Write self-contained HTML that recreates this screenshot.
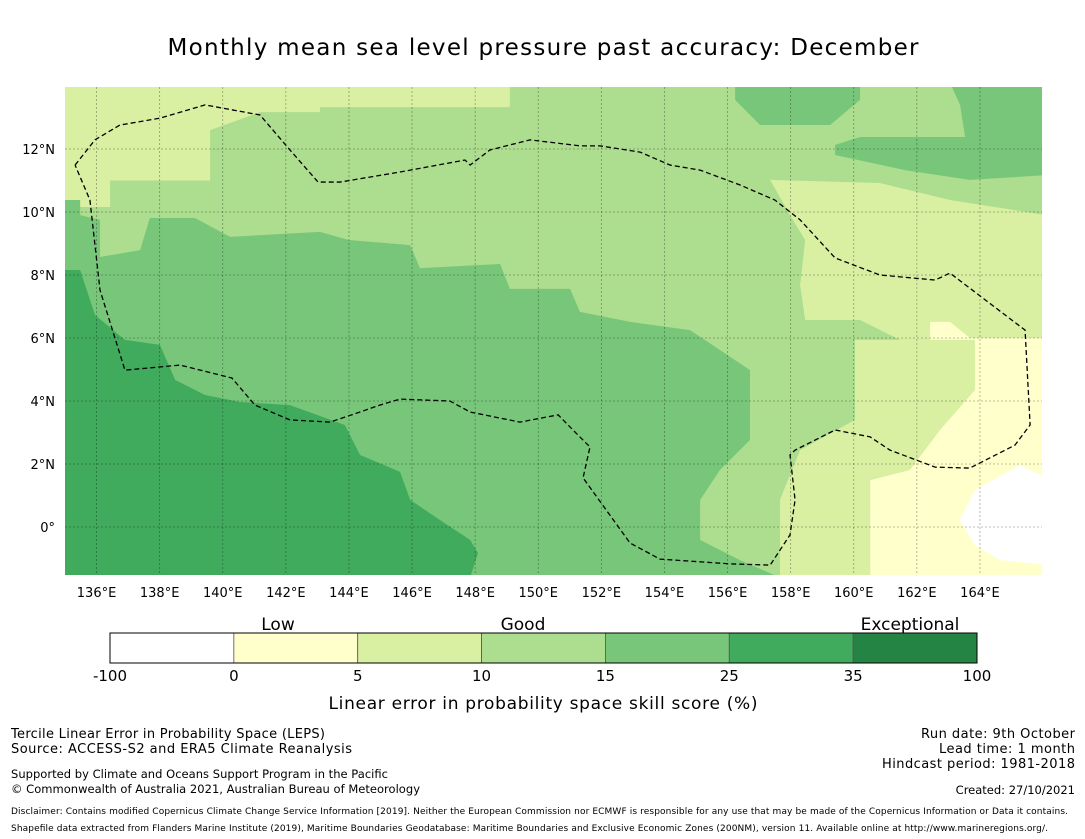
<!DOCTYPE html>
<html><head><meta charset="utf-8"><style>
body{margin:0;background:#fff}
svg{display:block;font-family:"DejaVu Sans","Liberation Sans",sans-serif}
</style></head><body>
<svg id="chart" width="1085" height="839" viewBox="0 0 1085 839">
<text x="543" y="55" font-size="23" text-anchor="middle" textLength="751">Monthly mean sea level pressure past accuracy: December</text>
<defs><clipPath id="mapclip"><rect x="65" y="87" width="977" height="488"/></clipPath></defs>
<g id="map" clip-path="url(#mapclip)"></g>
<g id="axes"></g>
<g id="cbar"></g>
<text x="278" y="630" font-size="17" text-anchor="middle">Low</text>
<text x="523" y="630" font-size="17" text-anchor="middle">Good</text>
<text x="910" y="630" font-size="17" text-anchor="middle">Exceptional</text>
<text x="543" y="709" font-size="17" text-anchor="middle" textLength="429">Linear error in probability space skill score (%)</text>
<g font-size="13">
<text x="11" y="738" textLength="314">Tercile Linear Error in Probability Space (LEPS)</text>
<text x="11" y="753" textLength="341">Source: ACCESS-S2 and ERA5 Climate Reanalysis</text>
<text x="11" y="778" font-size="11.5" textLength="377">Supported by Climate and Oceans Support Program in the Pacific</text>
<text x="11" y="793" font-size="11.5" textLength="409">© Commonwealth of Australia 2021, Australian Bureau of Meteorology</text>
<text x="1075" y="738" text-anchor="end" textLength="154">Run date: 9th October</text>
<text x="1075" y="753" text-anchor="end" textLength="136">Lead time: 1 month</text>
<text x="1075" y="768" text-anchor="end" textLength="193">Hindcast period: 1981-2018</text>
<text x="1075" y="794" font-size="11.5" text-anchor="end">Created: 27/10/2021</text>
<text x="11" y="814" font-size="9" textLength="1057">Disclaimer: Contains modified Copernicus Climate Change Service Information [2019]. Neither the European Commission nor ECMWF is responsible for any use that may be made of the Copernicus Information or Data it contains.</text>
<text x="11" y="831" font-size="9" textLength="1037">Shapefile data extracted from Flanders Marine Institute (2019), Maritime Boundaries Geodatabase: Maritime Boundaries and Exclusive Economic Zones (200NM), version 11. Available online at http://www.marineregions.org/.</text>
</g>
</svg>
<script>
const lonTicks=[136,138,140,142,144,146,148,150,152,154,156,158,160,162,164];
const latTicks=[0,2,4,6,8,10,12];
const cbarBounds=["-100","0","5","10","15","25","35","100"];
const cbarColors=["#ffffff","#ffffcc","#d9f0a3","#addd8e","#78c679","#41ab5d","#238443"];
const regionMidGreen=[[135,10.38],[135.48,10.38],[135.48,9.9],[136.11,9.75],[136.11,8.57],[137.38,8.79],[137.69,9.81],[139.12,9.81],[140.23,9.21],[143.08,9.37],[143.99,9.11],[145.94,8.95],[146.25,8.22],[148.79,8.35],[149.1,7.56],[151.01,7.56],[151.32,6.83],[152.91,6.51],[154.81,6.25],[155.76,5.62],[156.71,4.98],[156.71,2.76],[155.76,1.81],[155.13,0.86],[155.13,-0.41],[156.39,-1.05],[157.66,-1.6],[135,-1.6]];
const regionDarkGreen=[[135,8.16],[135.48,8.16],[135.95,6.73],[136.9,5.94],[138.01,5.78],[138.49,4.67],[139.44,4.19],[140.55,3.97],[142.13,3.87],[143.87,3.24],[144.35,2.29],[145.62,1.75],[145.94,0.86],[146.89,0.22],[147.84,-0.41],[148.09,-0.83],[147.84,-1.6],[135,-1.6]];
const regionTopLeft=[[134.9,14.1],[149.1,14.1],[149.1,13.33],[143.08,13.33],[143.08,13.17],[141.18,13.17],[139.6,12.6],[139.6,11.0],[136.43,11.0],[136.43,10.16],[134.9,10.16]];
const regionRightLight=[[157.35,11.02],[160.83,10.92],[163.05,10.38],[166.1,9.9],[166.1,5.94],[161.47,5.94],[160.2,6.57],[158.46,6.57],[158.3,7.68],[158.46,9.11],[157.98,9.9]];
const regionLowerLight=[[157.66,-1.6],[157.66,0.86],[158.3,2.44],[160.04,3.4],[160.04,5.94],[163.84,5.94],[163.84,4.35],[162.73,3.08],[161.78,1.81],[160.52,1.49],[160.52,-1.6]];
const regionYellow=[[160.52,-1.6],[160.52,1.49],[161.78,1.81],[162.73,3.08],[163.84,4.35],[163.84,5.94],[162.42,5.94],[162.42,6.51],[163.05,6.51],[163.68,6.0],[166.1,6.0],[166.1,-1.6]];
const regionWhite=[[166.1,1.56],[165.27,1.97],[163.84,1.17],[163.36,0.22],[163.84,-0.57],[164.63,-1.05],[166.1,-1.2]];
const regionTopRightA=[[156.24,14.1],[160.2,14.1],[160.2,13.56],[159.25,12.76],[157.03,12.76],[156.24,13.56]];
const regionTopRightB=[[163.05,14.1],[166.1,14.1],[166.1,11.17],[163.68,11.02],[161.62,11.33],[159.41,11.81],[159.41,12.13],[160.2,12.38],[163.53,12.38],[163.37,13.4]];
const eezBoundary=[[135.32,11.49],[135.95,12.29],[136.74,12.76],[138.01,12.98],[139.44,13.4],[141.18,13.08],[142.13,11.97],[143.02,10.95],[143.72,10.95],[145.62,11.27],[147.68,11.65],[147.84,11.49],[148.47,11.97],[149.74,12.29],[151.32,12.1],[151.96,12.1],[153.23,11.9],[154.18,11.49],[155.13,11.33],[156.39,10.86],[157.5,10.38],[158.3,9.75],[159.41,8.54],[160.83,8.0],[162.58,7.84],[163.05,8.06],[165.43,6.25],[165.59,3.24],[165.11,2.6],[163.68,1.87],[162.58,1.9],[161.15,2.44],[160.52,2.86],[159.41,3.08],[158.14,2.44],[157.98,2.29],[158.14,0.86],[157.98,-0.25],[157.35,-1.21],[156.08,-1.17],[153.86,-1.02],[152.91,-0.51],[151.42,1.56],[151.64,2.54],[151.16,3.02],[150.63,3.56],[149.42,3.33],[147.84,3.65],[147.2,4.0],[145.62,4.06],[144.98,3.87],[144.35,3.65],[143.4,3.33],[142.13,3.4],[141.02,3.87],[140.29,4.73],[138.65,5.14],[136.9,4.98],[136.11,7.52],[135.79,10.38],[135.32,11.49]];

const NS="http://www.w3.org/2000/svg";
const X=lon=>65+(lon-135)*31.55;
const Y=lat=>527-lat*31.5;
function mk(tag,attrs,parent){const e=document.createElementNS(NS,tag);for(const k in attrs)e.setAttribute(k,attrs[k]);parent.appendChild(e);return e;}
const map=document.getElementById('map');
const bg=mk('rect',{x:65,y:87,width:977,height:488,fill:'#addd8e'},map);


const regions=[[regionTopLeft,'#d9f0a3','region-top-left'],[regionMidGreen,'#78c679','region-mid-green'],[regionDarkGreen,'#41ab5d','region-dark-green'],[regionRightLight,'#d9f0a3','region-right-light'],[regionLowerLight,'#d9f0a3','region-lower-light'],[regionYellow,'#ffffcc','region-yellow'],[regionWhite,'#ffffff','region-white'],[regionTopRightA,'#78c679','region-top-right-a'],[regionTopRightB,'#78c679','region-top-right-b']];
regions.forEach(([pts,c,n])=>{
  const p=mk('polygon',{points:pts.map(q=>X(q[0])+','+Y(q[1])).join(' '),fill:c},map);
  
  
});
const ax=document.getElementById('axes');
lonTicks.forEach(l=>{
  const g=mk('line',{x1:X(l),x2:X(l),y1:87,y2:575,stroke:'#000','stroke-opacity':0.35,'stroke-width':0.8,'stroke-dasharray':'2 2'},ax);
  
  
  const t=mk('text',{x:X(l),y:597,'font-size':13,'text-anchor':'middle'},ax);
  t.textContent=l+'°E';
  
  
});
latTicks.forEach(l=>{
  const g=mk('line',{x1:65,x2:1042,y1:Y(l),y2:Y(l),stroke:'#000','stroke-opacity':0.35,'stroke-width':0.8,'stroke-dasharray':'2 2'},ax);
  
  
  const t=mk('text',{x:55,y:Y(l)+5,'font-size':13,'text-anchor':'end'},ax);
  t.textContent=l===0?'0°':l+'°N';
  
  
});
const eez=mk('polyline',{points:eezBoundary.map(q=>X(q[0])+','+Y(q[1])).join(' '),fill:'none',stroke:'#000','stroke-width':1.3,'stroke-dasharray':'5 3'},ax);


const cb=document.getElementById('cbar');
const cx0=110,cw=(977-110)/cbarColors.length;
cbarColors.forEach((c,i)=>{
  const r=mk('rect',{x:cx0+i*cw,y:633,width:cw,height:30,fill:c,stroke:'#555','stroke-width':0.8},cb);
  
  
});
const fr=mk('rect',{x:110,y:633,width:867,height:30,fill:'none',stroke:'#000','stroke-width':1},cb);


cbarBounds.forEach((b,i)=>{
  const t=mk('text',{x:cx0+i*cw,y:681,'font-size':15,'text-anchor':'middle'},cb);
  t.textContent=b;
  
  
});
</script>
</body></html>
